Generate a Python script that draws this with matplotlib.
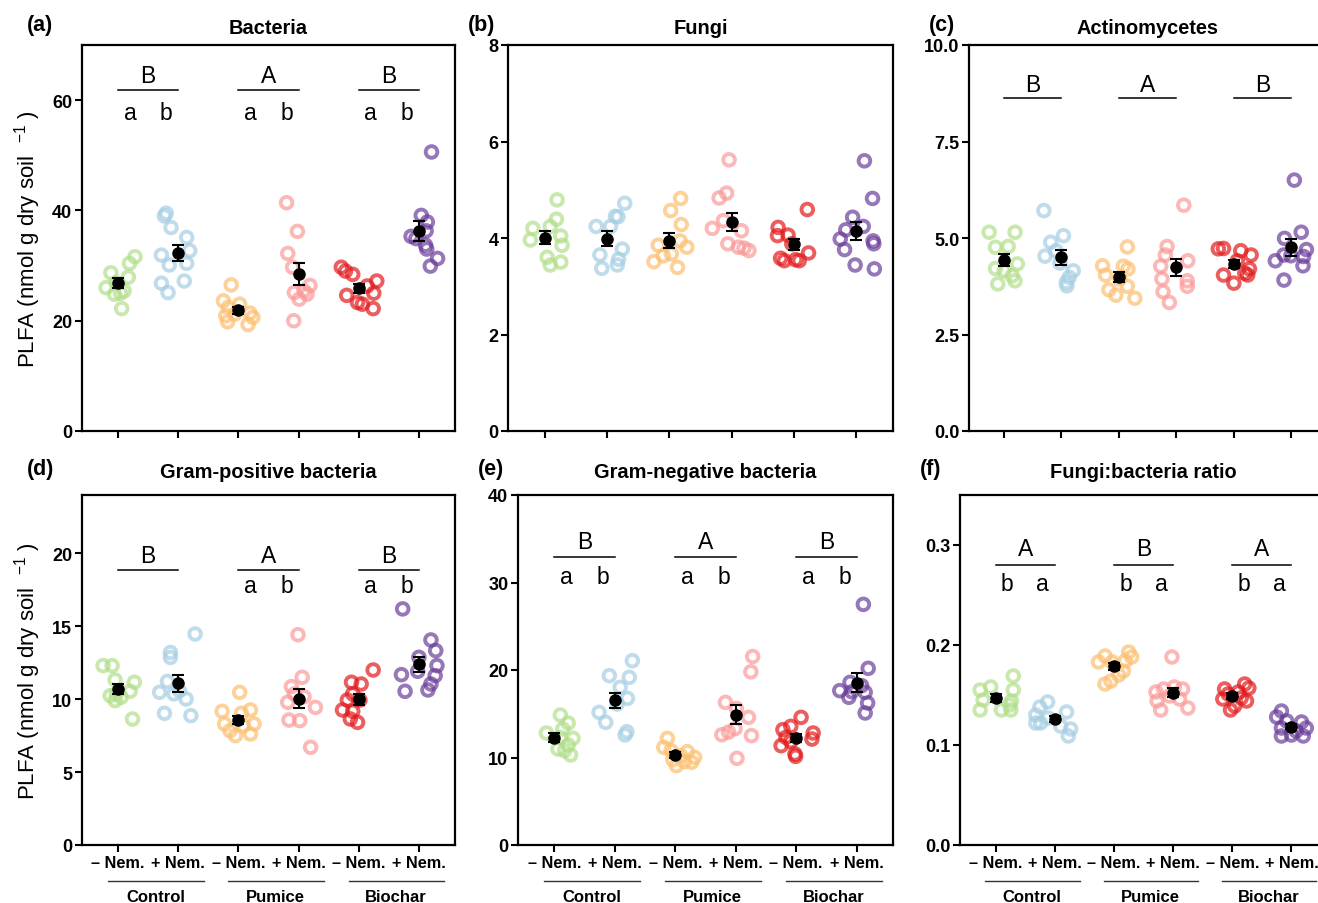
import matplotlib
matplotlib.use("Agg")
import matplotlib.pyplot as plt
import matplotlib.transforms as mtrans
from matplotlib.ticker import FormatStrFormatter
import numpy as np

plt.rcParams["font.family"] = ["Liberation Sans", "DejaVu Sans"]
plt.rcParams["mathtext.default"] = "regular"

# groups: Control -/+ Nem., Pumice -/+ Nem., Biochar -/+ Nem.
colors = ["#b2df8a", "#a6cee3", "#fdbf6f", "#fb9a99", "#e31a1c", "#6a3d9a"]
xlabels = ["– Nem.", "+ Nem."] * 3
groups = ["Control", "Pumice", "Biochar"]

bact = [
    [31.6, 30.4, 28.7, 27.9, 26.0, 26.9, 25.4, 24.8, 25.0, 22.2],
    [39.5, 39.0, 36.9, 35.1, 32.7, 31.9, 30.1, 30.4, 26.8, 27.2, 25.1],
    [26.5, 23.6, 23.0, 22.4, 20.9, 21.2, 21.4, 20.6, 19.3, 19.8],
    [41.4, 36.2, 32.2, 29.7, 26.4, 25.1, 24.8, 23.9, 25.4, 20.0],
    [29.7, 29.0, 28.4, 27.2, 26.3, 25.0, 24.6, 23.3, 23.0, 22.2],
    [50.6, 39.1, 37.9, 36.3, 35.3, 34.9, 33.7, 33.0, 31.3, 29.9],
]
bact_jit = [
    [0.28, 0.19, -0.12, 0.17, -0.2, -0.03, 0.1, -0.06, 0.04, 0.06],
    [-0.2, -0.23, -0.12, 0.14, 0.19, -0.28, -0.15, 0.14, -0.28, 0.1, -0.17],
    [-0.12, -0.25, 0.02, -0.17, -0.21, -0.06, 0.19, 0.24, 0.16, -0.18],
    [-0.2, -0.02, -0.18, -0.1, 0.19, -0.07, 0.14, 0.01, 0.09, -0.08],
    [-0.29, -0.22, -0.1, 0.3, 0.14, 0.25, -0.2, -0.02, 0.06, 0.24],
    [0.21, 0.04, 0.14, 0.12, -0.13, -0.05, 0.11, 0.13, 0.31, 0.19],
]

fungi = [
    [4.79, 4.39, 4.24, 4.20, 4.04, 3.96, 3.85, 3.60, 3.44, 3.50],
    [4.72, 4.44, 4.24, 4.24, 3.77, 3.65, 3.56, 3.44, 3.37, 4.45],
    [4.82, 4.57, 4.28, 3.94, 3.85, 3.81, 3.67, 3.63, 3.51, 3.39],
    [5.62, 4.93, 4.83, 4.36, 4.20, 4.15, 3.88, 3.81, 3.79, 3.74],
    [4.59, 4.22, 4.05, 4.06, 3.88, 3.69, 3.58, 3.53, 3.55, 3.53],
    [5.60, 4.82, 4.43, 4.24, 4.17, 3.98, 3.94, 3.88, 3.76, 3.44, 3.36],
]
fungi_jit = [
    [0.19, 0.18, 0.08, -0.2, 0.25, -0.24, 0.27, 0.03, 0.08, 0.25],
    [0.28, 0.17, 0.05, -0.18, 0.24, -0.12, 0.18, 0.16, -0.09, 0.13],
    [0.18, 0.02, 0.19, 0.17, -0.18, 0.28, 0.03, -0.1, -0.25, 0.13],
    [-0.04, -0.08, -0.2, -0.13, -0.31, 0.16, -0.06, 0.11, 0.2, 0.28],
    [0.22, -0.25, -0.26, -0.09, -0.03, 0.24, -0.21, -0.15, 0.03, 0.09],
    [0.14, 0.27, -0.05, 0.12, -0.16, -0.25, 0.28, 0.29, -0.18, -0.01, 0.3],
]

actino = [
    [5.15, 5.15, 4.76, 4.78, 4.33, 4.21, 4.15, 4.02, 3.89, 3.81],
    [5.71, 5.06, 4.89, 4.67, 4.53, 4.35, 4.15, 3.98, 3.85, 3.76],
    [4.77, 4.28, 4.27, 4.20, 4.04, 3.94, 3.75, 3.66, 3.52, 3.44],
    [5.85, 4.78, 4.56, 4.41, 4.27, 3.94, 3.89, 3.75, 3.61, 3.33],
    [4.72, 4.73, 4.67, 4.56, 4.41, 4.04, 4.20, 4.04, 3.83, 4.09],
    [6.50, 5.15, 4.99, 4.70, 4.54, 4.52, 4.41, 4.56, 4.28, 3.91],
]
actino_jit = [
    [-0.25, 0.2, -0.14, 0.08, 0.24, -0.14, 0.01, 0.15, 0.2, -0.1],
    [-0.3, 0.04, -0.18, -0.09, -0.28, -0.02, 0.21, 0.14, 0.09, 0.1],
    [0.15, -0.28, 0.08, 0.16, -0.23, 0.02, 0.15, -0.17, -0.05, 0.28],
    [0.13, -0.16, -0.19, 0.2, -0.27, -0.25, 0.19, 0.19, -0.23, -0.12],
    [-0.27, -0.18, 0.12, 0.3, 0.06, -0.18, 0.27, 0.24, 0.0, 0.19],
    [0.05, 0.17, -0.12, 0.26, -0.01, 0.21, -0.28, -0.13, 0.2, -0.13],
]

gpos = [
    [12.30, 12.30, 11.32, 11.16, 10.54, 10.24, 9.90, 10.13, 10.36, 8.64],
    [14.47, 13.20, 12.86, 11.22, 10.47, 10.36, 10.01, 10.58, 9.03, 8.87],
    [10.47, 9.17, 9.26, 9.03, 8.30, 8.30, 8.18, 7.50, 7.61, 7.84],
    [14.42, 11.50, 10.86, 10.17, 9.79, 10.36, 9.44, 8.57, 8.53, 6.70],
    [12.00, 11.16, 11.04, 10.36, 9.94, 9.26, 9.94, 9.17, 8.64, 8.41],
    [16.19, 14.06, 13.33, 12.87, 12.30, 11.61, 11.68, 11.91, 11.04, 10.63, 10.54],
]
gpos_jit = [
    [-0.25, -0.1, -0.05, 0.27, 0.2, -0.13, -0.05, 0.05, -0.03, 0.24],
    [0.28, -0.13, -0.13, -0.18, -0.31, -0.07, 0.13, 0.02, -0.23, 0.21],
    [0.02, -0.27, 0.2, 0.05, -0.23, 0.26, 0.08, -0.05, 0.2, -0.14],
    [-0.01, 0.06, -0.12, 0.09, -0.18, -0.07, 0.28, -0.16, 0.02, 0.2],
    [0.24, -0.12, 0.04, -0.1, -0.19, -0.27, 0.02, -0.1, -0.14, -0.02],
    [-0.27, 0.2, 0.28, 0.0, 0.3, 0.27, -0.29, -0.02, 0.2, 0.15, -0.23],
]

gneg = [
    [14.86, 13.94, 13.26, 12.80, 12.19, 12.30, 11.43, 10.97, 10.78, 10.29],
    [21.06, 19.35, 19.16, 18.02, 16.76, 16.11, 15.16, 14.02, 12.95, 12.57],
    [12.19, 11.16, 10.78, 10.67, 10.21, 10.02, 9.75, 9.52, 9.45, 9.07],
    [21.54, 19.79, 16.30, 15.60, 14.59, 13.30, 12.60, 12.50, 12.90, 9.91],
    [14.59, 13.18, 13.56, 12.80, 12.11, 12.30, 11.35, 11.81, 10.40, 10.13],
    [27.50, 20.19, 18.59, 18.21, 17.64, 17.52, 17.45, 16.88, 16.23, 15.09],
]
gneg_jit = [
    [0.1, 0.23, 0.14, -0.13, 0.31, 0.1, 0.23, 0.06, 0.17, 0.27],
    [0.29, -0.09, 0.24, 0.09, 0.21, 0.04, -0.26, -0.15, 0.2, 0.17],
    [-0.13, -0.19, -0.07, 0.2, 0.09, 0.32, -0.04, 0.15, 0.27, 0.02],
    [0.28, 0.25, -0.17, 0.01, 0.21, -0.01, -0.23, 0.26, -0.12, 0.02],
    [0.08, -0.22, -0.09, 0.28, 0.26, -0.17, -0.25, -0.09, -0.02, -0.01],
    [0.11, 0.19, -0.11, 0.08, -0.28, -0.08, 0.14, -0.13, 0.18, 0.14],
]

ratio = [
    [0.169, 0.155, 0.158, 0.155, 0.145, 0.144, 0.140, 0.135, 0.135, 0.135],
    [0.143, 0.138, 0.133, 0.130, 0.127, 0.122, 0.122, 0.116, 0.109, 0.119],
    [0.193, 0.188, 0.189, 0.183, 0.183, 0.174, 0.170, 0.164, 0.161, 0.184],
    [0.188, 0.153, 0.156, 0.158, 0.156, 0.144, 0.146, 0.135, 0.137, 0.149],
    [0.156, 0.161, 0.157, 0.153, 0.146, 0.147, 0.144, 0.139, 0.135, 0.151],
    [0.134, 0.128, 0.124, 0.123, 0.117, 0.117, 0.114, 0.109, 0.109, 0.110],
]
ratio_jit = [
    [0.3, -0.26, -0.08, 0.3, -0.21, 0.27, 0.24, 0.1, -0.26, 0.26],
    [-0.12, -0.25, 0.2, -0.32, -0.11, -0.24, -0.32, 0.27, 0.23, 0.1],
    [0.25, 0.3, -0.15, -0.26, -0.03, 0.16, 0.08, -0.05, -0.15, 0.19],
    [-0.02, -0.29, -0.16, 0.02, 0.16, -0.27, 0.11, -0.21, 0.25, -0.06],
    [-0.13, 0.21, 0.28, 0.1, -0.16, 0.15, 0.24, 0.04, -0.03, -0.07],
    [-0.17, -0.25, -0.08, 0.17, 0.25, -0.17, 0.08, 0.2, -0.17, 0.0],
]

# significance letters: soil amendment (upper), nematode within amendment (lower)
up_bact, low_bact = ["B", "A", "B"], [("a", "b"), ("a", "b"), ("a", "b")]
up_act, low_act = ["B", "A", "B"], [None, None, None]
up_gpos, low_gpos = ["B", "A", "B"], [None, ("a", "b"), ("a", "b")]
up_gneg, low_gneg = ["B", "A", "B"], [("a", "b"), ("a", "b"), ("a", "b")]
up_ratio, low_ratio = ["A", "B", "A"], [("b", "a"), ("b", "a"), ("b", "a")]

W, H = 1318, 904
fig = plt.figure(figsize=(W / 100, H / 100), dpi=100)


def px_rect(l, r, t, b):
    return [l / W, 1 - b / H, (r - l) / W, (b - t) / H]


def panel(rect, tag, title, vals, jit, ylim, yticks, fmt=None, up=None, low=None,
          ys=None, bottom=False, ylab=False):
    ax = fig.add_axes(rect)
    for i in range(6):
        v = np.array(vals[i])
        x = i + 1 + np.array(jit[i])
        ax.scatter(x, v, s=70, facecolors="none", edgecolors=colors[i],
                   linewidths=2.8, alpha=0.7, zorder=2)
        se = v.std(ddof=1) / np.sqrt(len(v))
        ax.errorbar(i + 1, v.mean(), yerr=se, fmt="o", color="black", ms=8,
                    capsize=4.5, elinewidth=1.5, capthick=1.5, zorder=3)

    if up is not None:
        yu, yl, ylow = ys
        for g in range(3):
            x0 = 2 * g + 1
            ax.text(x0 + 0.5, yu, up[g], ha="center", va="baseline", fontsize=16.5)
            ax.plot([x0, x0 + 1], [yl, yl], color="black", lw=1.1, zorder=3)
            if low[g] is not None:
                ax.text(x0 + 0.2, ylow, low[g][0], ha="center", va="baseline", fontsize=16.5)
                ax.text(x0 + 0.8, ylow, low[g][1], ha="center", va="baseline", fontsize=16.5)

    ax.set_xlim(0.4, 6.6)
    ax.set_ylim(*ylim)
    ax.set_yticks(yticks)
    ax.set_xticks(range(1, 7))
    if fmt:
        ax.yaxis.set_major_formatter(FormatStrFormatter(fmt))
    for s in ax.spines.values():
        s.set_linewidth(1.6)
    ax.tick_params(direction="out", length=5, width=1.5, labelsize=13, pad=2)
    for lbl in ax.get_yticklabels():
        lbl.set_fontweight("bold")

    if bottom:
        ax.set_xticklabels(xlabels, fontsize=11.7, fontweight="bold")
        trans = mtrans.blended_transform_factory(ax.transData, ax.transAxes)
        for g in range(3):
            x0 = 2 * g + 1
            ax.plot([x0 - 0.17, x0 + 1.42], [-0.103, -0.103], transform=trans,
                    color="#333333", lw=1.0, clip_on=False)
            ax.text(x0 + 0.62, -0.148, groups[g], transform=trans, ha="center",
                    va="center", fontsize=12, fontweight="bold")
    else:
        ax.set_xticklabels([])

    cx = rect[0] + rect[2] / 2
    ty = rect[1] + rect[3] + (18 if rect[1] > 0.5 else 23) / H
    fig.text(cx, ty, title, ha="center", va="center", fontsize=14.4, fontweight="bold")
    fig.text(rect[0] - 55 / W if ylab else rect[0] - 40 / W, ty + 3 / H, tag,
             ha="left", va="center", fontsize=15.5, fontweight="bold")
    if ylab:
        fig.text(28 / W, rect[1] + rect[3] / 2, "PLFA (nmol g dry soil  $^{-1}$ )",
                 rotation=90, ha="center", va="center", fontsize=16)
    return ax


panel(px_rect(82, 455, 46, 432), "(a)", "Bacteria", bact, bact_jit, (0, 70),
      [0, 20, 40, 60], up=up_bact, low=low_bact, ys=(63.2, 61.8, 56.65), ylab=True)
panel(px_rect(508, 893, 46, 432), "(b)", "Fungi", fungi, fungi_jit, (0, 8),
      [0, 2, 4, 6, 8])
panel(px_rect(969, 1326, 46, 432), "(c)", "Actinomycetes", actino, actino_jit, (0, 10),
      [0, 2.5, 5, 7.5, 10], fmt="%.1f", up=up_act, low=low_act, ys=(8.82, 8.62, None))
panel(px_rect(82, 455, 496, 846), "(d)", "Gram-positive bacteria", gpos, gpos_jit, (0, 24),
      [0, 5, 10, 15, 20], up=up_gpos, low=low_gpos, ys=(19.43, 18.88, 17.33),
      bottom=True, ylab=True)
panel(px_rect(518, 893, 496, 846), "(e)", "Gram-negative bacteria", gneg, gneg_jit, (0, 40),
      [0, 10, 20, 30, 40], up=up_gneg, low=low_gneg, ys=(33.9, 32.95, 29.9), bottom=True)
panel(px_rect(960, 1327, 496, 846), "(f)", "Fungi:bacteria ratio", ratio, ratio_jit, (0, 0.35),
      [0, 0.1, 0.2, 0.3], fmt="%.1f", up=up_ratio, low=low_ratio, ys=(0.29, 0.28, 0.255),
      bottom=True)

fig.savefig("out.png", dpi=100)
